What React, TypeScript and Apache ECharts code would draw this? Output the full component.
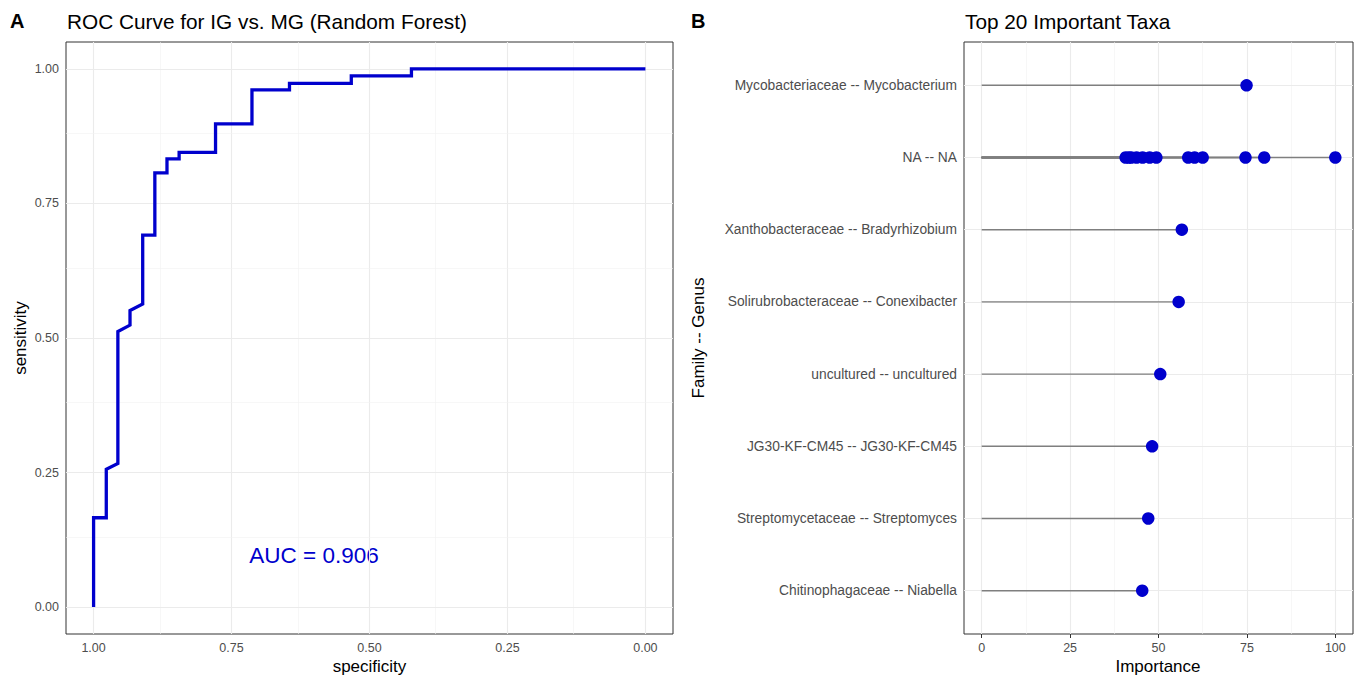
import React, { useEffect, useRef } from "react";
import * as echarts from "echarts";

// ROC curve (specificity, sensitivity) corner points
const rocSpecificity = [1, 1, 0.977, 0.977, 0.956, 0.956, 0.934, 0.934, 0.911, 0.911, 0.889, 0.889, 0.867, 0.867, 0.845, 0.845, 0.779, 0.779, 0.713, 0.713, 0.645, 0.645, 0.533, 0.533, 0.424, 0.424, 0];
const rocSensitivity = [0, 0.166, 0.166, 0.256, 0.267, 0.512, 0.524, 0.551, 0.563, 0.691, 0.691, 0.807, 0.807, 0.833, 0.833, 0.845, 0.845, 0.898, 0.898, 0.961, 0.961, 0.973, 0.973, 0.987, 0.987, 1, 1];
const aucLabel = "AUC = 0.906";

const rocTicks = [0, 0.25, 0.5, 0.75, 1];
const rocMinor = [0.125, 0.375, 0.625, 0.875];

// Importance panel
const taxa = [
  "Mycobacteriaceae -- Mycobacterium",
  "NA -- NA",
  "Xanthobacteraceae -- Bradyrhizobium",
  "Solirubrobacteraceae -- Conexibacter",
  "uncultured -- uncultured",
  "JG30-KF-CM45 -- JG30-KF-CM45",
  "Streptomycetaceae -- Streptomyces",
  "Chitinophagaceae -- Niabella",
];
const pointTaxon = [0, 1, 1, 1, 1, 1, 1, 1, 1, 1, 1, 1, 1, 1, 2, 3, 4, 5, 6, 7];
const pointImportance = [74.9, 40.7, 41.6, 42.3, 43.8, 45.5, 47.5, 49.4, 58.4, 60.2, 62.5, 74.6, 79.9, 100, 56.6, 55.7, 50.5, 48.2, 47.1, 45.4];
const impTicks = [0, 25, 50, 75, 100];
const impMinor = [12.5, 37.5, 62.5, 87.5];

const FONT = "'Liberation Sans', Arial, Helvetica, sans-serif";
const BLUE = "#0000CD";
const GRID_MAJOR = { color: "#ebebeb", width: 1.1, type: "solid" as const };
const GRID_MINOR = { color: "#f2f2f2", width: 0.6, type: "solid" as const };

export default function App() {
  const ref = useRef<HTMLDivElement>(null);
  useEffect(() => {
    if (!ref.current) return;
    const chart = echarts.init(ref.current, null, { renderer: "svg" });

    const rocData = rocSpecificity.map((s, i) => [s, rocSensitivity[i]]);
    const pts = pointImportance.map((v, i) => [v, pointTaxon[i] + 1]);
    const rows = taxa.map((_, i) => i + 1);

    const gridLines = (axisKey: string, major: number[], minor: number[]) => [
      ...minor.map((v) => ({ [axisKey]: v, lineStyle: GRID_MINOR })),
      ...major.map((v) => ({ [axisKey]: v, lineStyle: GRID_MAJOR })),
    ];

    const tickStyle = { show: true, length: 4, lineStyle: { color: "#333333", width: 1 } };
    const labelStyle = { color: "#4d4d4d", fontSize: 12.5, fontFamily: FONT };

    chart.setOption({
      animation: false,
      backgroundColor: "#ffffff",
      grid: [
        { left: 66, top: 42, width: 607, height: 592, show: true, borderColor: "#333333", borderWidth: 1, backgroundColor: "transparent" },
        { left: 964, top: 42, width: 389, height: 592, show: true, borderColor: "#333333", borderWidth: 1, backgroundColor: "transparent" },
      ],
      xAxis: [
        {
          type: "value", gridIndex: 0, min: -0.05, max: 1.05, inverse: true,
          axisLine: { show: false }, splitLine: { show: false },
          axisTick: { ...tickStyle, customValues: rocTicks },
          axisLabel: { ...labelStyle, margin: 7, customValues: rocTicks, formatter: (v: number) => v.toFixed(2) },
        },
        {
          type: "value", gridIndex: 1, min: -5, max: 105,
          axisLine: { show: false }, splitLine: { show: false },
          axisTick: { ...tickStyle, customValues: impTicks },
          axisLabel: { ...labelStyle, margin: 7, customValues: impTicks, formatter: (v: number) => String(v) },
        },
      ],
      yAxis: [
        {
          type: "value", gridIndex: 0, min: -0.05, max: 1.05,
          axisLine: { show: false }, splitLine: { show: false },
          axisTick: { ...tickStyle, customValues: rocTicks },
          axisLabel: { ...labelStyle, margin: 7, customValues: rocTicks, formatter: (v: number) => v.toFixed(2) },
        },
        {
          type: "value", gridIndex: 1, min: 0.4, max: 8.6, inverse: true,
          axisLine: { show: false }, splitLine: { show: false },
          axisTick: { ...tickStyle, customValues: rows },
          axisLabel: { ...labelStyle, fontSize: 13.8, margin: 7, customValues: rows, formatter: (v: number) => taxa[Math.round(v) - 1] ?? "" },
        },
      ],
      series: [
        {
          type: "line", xAxisIndex: 0, yAxisIndex: 0, data: rocData, z: 3,
          showSymbol: false, symbol: "none",
          lineStyle: { color: BLUE, width: 3.3, join: "miter" },
          markLine: {
            silent: true, symbol: "none", z: 1, label: { show: false },
            data: [...gridLines("xAxis", rocTicks, rocMinor), ...gridLines("yAxis", rocTicks, rocMinor)],
          },
        },
        {
          type: "custom", xAxisIndex: 1, yAxisIndex: 1, data: pts, z: 2,
          renderItem: (params: any, api: any) => {
            const y = api.value(1);
            const a = api.coord([0, y]);
            const b = api.coord([api.value(0), y]);
            return { type: "line", shape: { x1: a[0], y1: a[1], x2: b[0], y2: b[1] }, style: { stroke: "#7f7f7f", lineWidth: 1.4 } };
          },
          markLine: {
            silent: true, symbol: "none", z: 1, label: { show: false },
            data: [...gridLines("xAxis", impTicks, impMinor), ...rows.map((r) => ({ yAxis: r, lineStyle: GRID_MAJOR }))],
          },
        },
        {
          type: "scatter", xAxisIndex: 1, yAxisIndex: 1, data: pts, z: 4,
          symbolSize: 12.5, itemStyle: { color: BLUE, opacity: 1 },
        },
      ],
      graphic: [
        { type: "text", x: 10, y: 21, style: { text: "A", font: `bold 20px ${FONT}`, fill: "#000", verticalAlign: "middle" } },
        { type: "text", x: 67, y: 21, style: { text: "ROC Curve for IG vs. MG (Random Forest)", font: `20.8px ${FONT}`, fill: "#000", verticalAlign: "middle" } },
        { type: "text", x: 691, y: 21, style: { text: "B", font: `bold 20px ${FONT}`, fill: "#000", verticalAlign: "middle" } },
        { type: "text", x: 965, y: 21, style: { text: "Top 20 Important Taxa", font: `20.8px ${FONT}`, fill: "#000", verticalAlign: "middle" } },
        { type: "text", x: 369.5, y: 666, style: { text: "specificity", font: `17px ${FONT}`, fill: "#000", align: "center", verticalAlign: "middle" } },
        { type: "text", x: 1158, y: 666, style: { text: "Importance", font: `17px ${FONT}`, fill: "#000", align: "center", verticalAlign: "middle" } },
        { type: "text", x: 20, y: 338, rotation: Math.PI / 2, style: { text: "sensitivity", font: `17px ${FONT}`, fill: "#000", align: "center", verticalAlign: "middle" } },
        { type: "text", x: 698, y: 338, rotation: Math.PI / 2, style: { text: "Family -- Genus", font: `17px ${FONT}`, fill: "#000", align: "center", verticalAlign: "middle" } },
        { type: "text", x: 314, y: 555, style: { text: aucLabel, font: `22.5px ${FONT}`, fill: BLUE, align: "center", verticalAlign: "middle" } },
      ],
    });
    return () => chart.dispose();
  }, []);
  return <div ref={ref} style={{ position: "fixed", left: 0, top: 0, width: 1358, height: 678 }} />;
}
